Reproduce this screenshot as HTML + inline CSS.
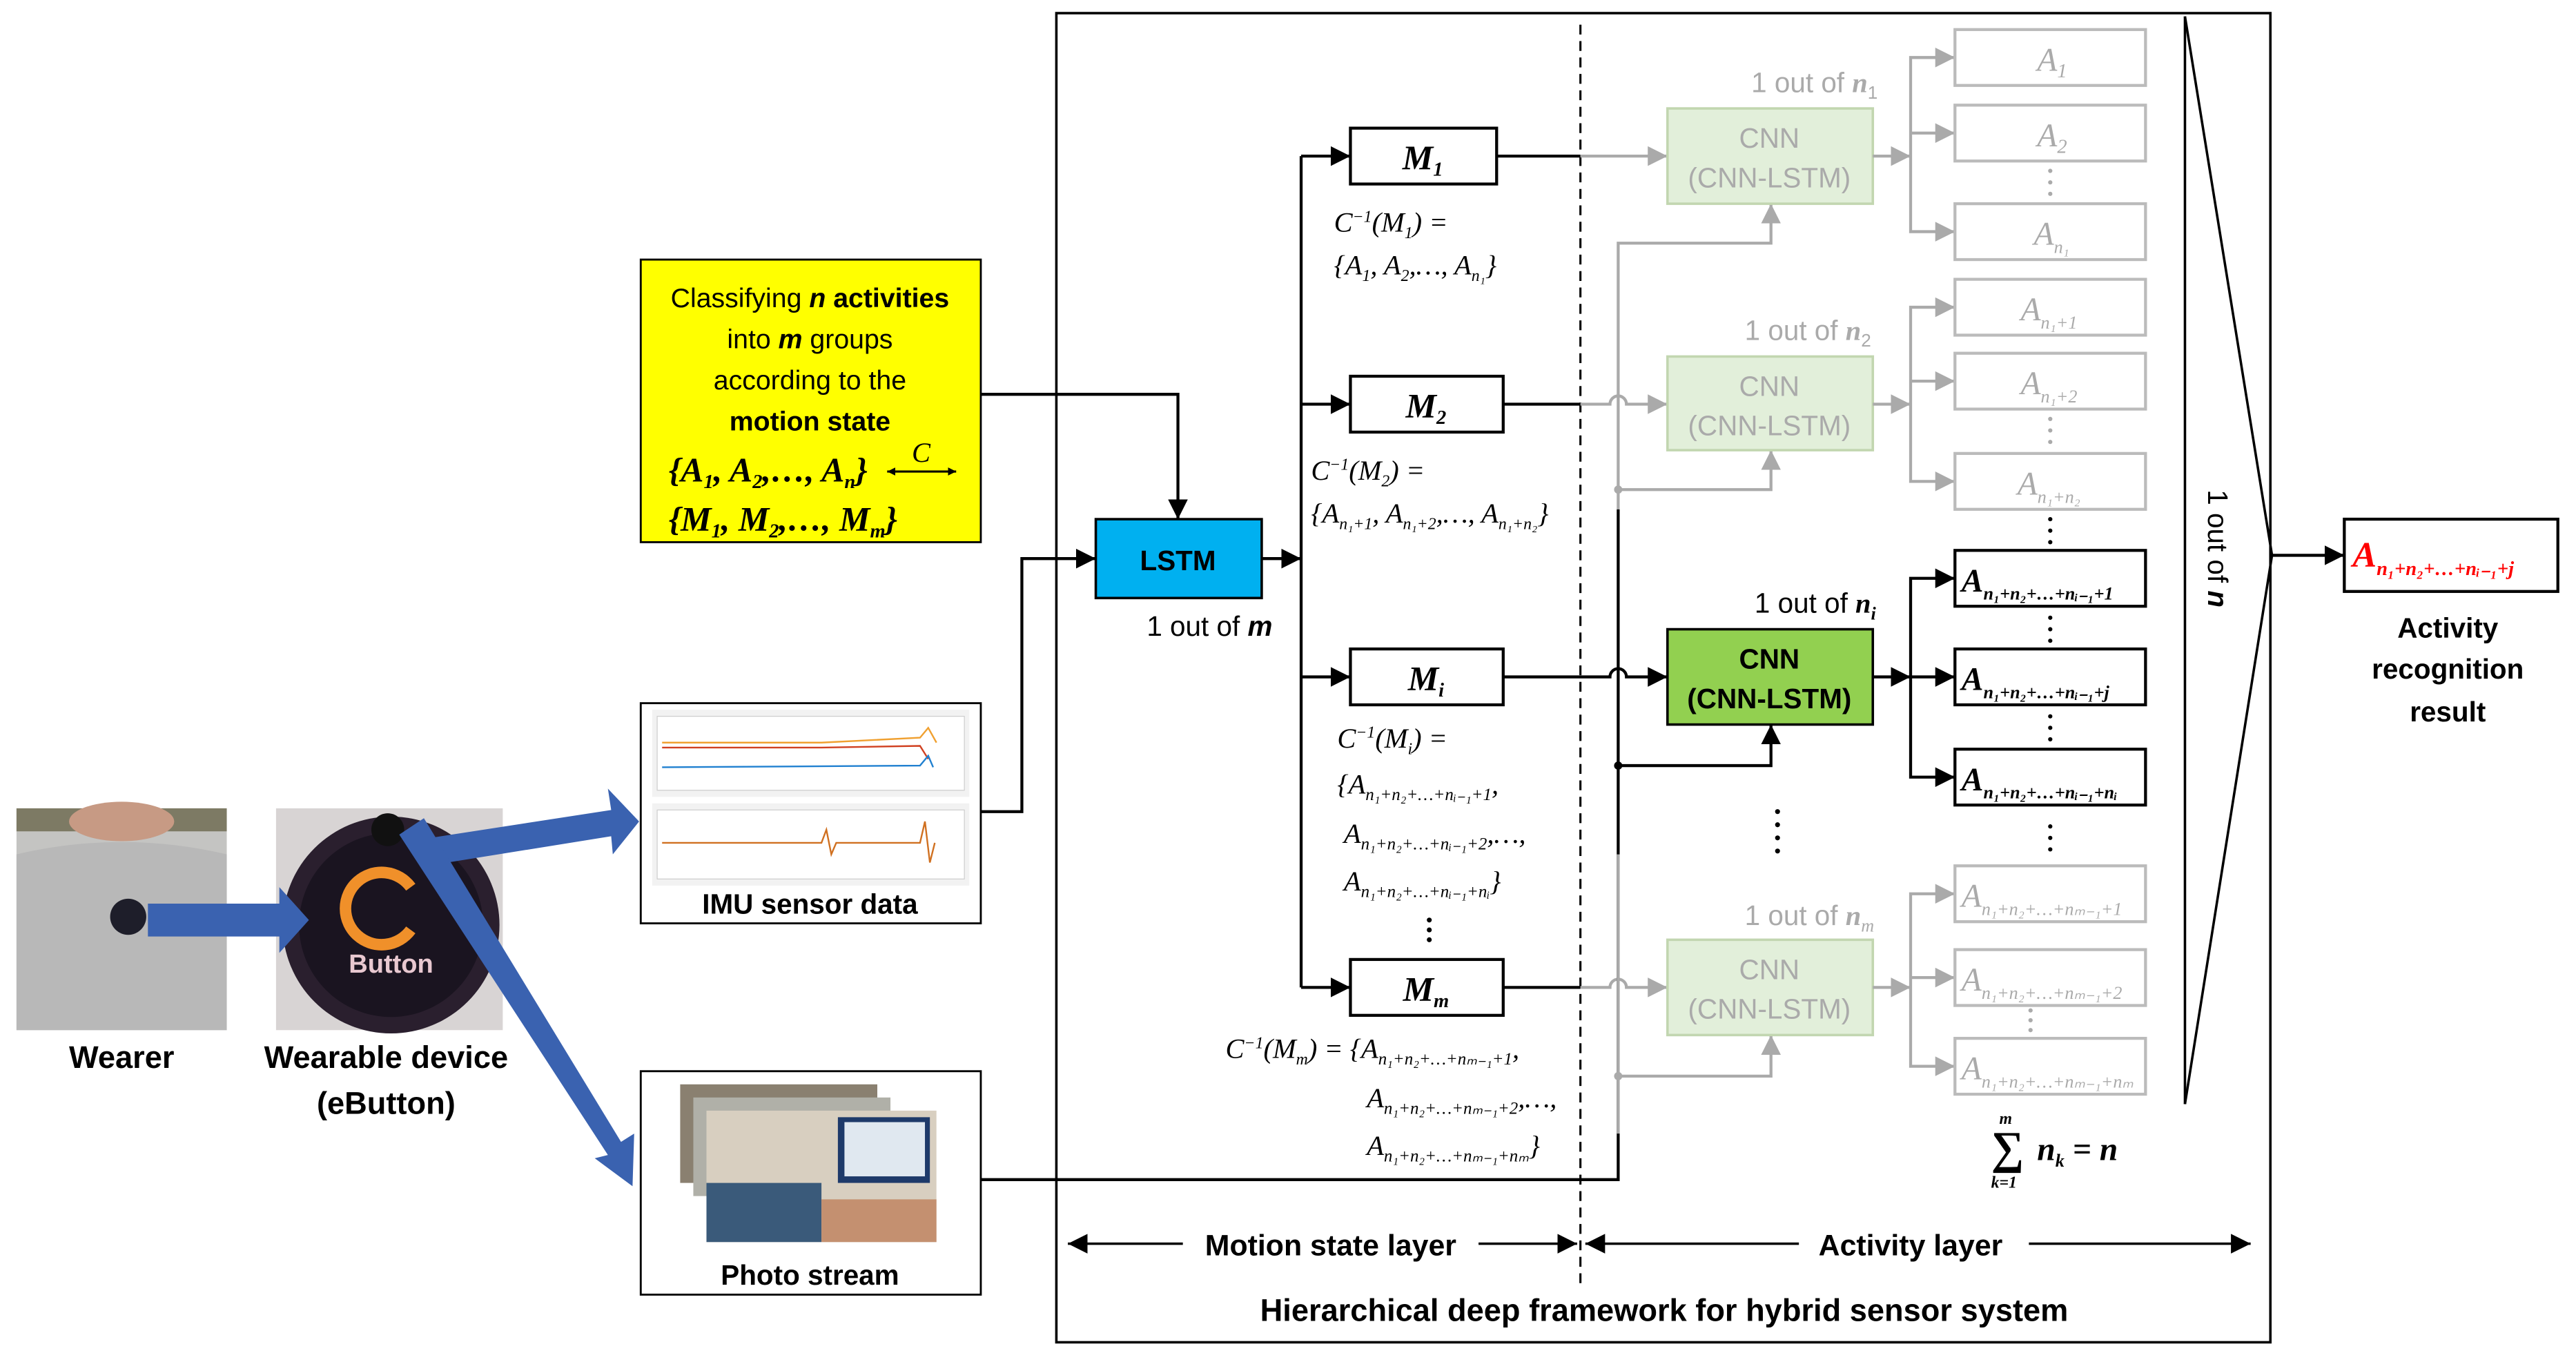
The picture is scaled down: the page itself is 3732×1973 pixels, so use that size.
<!DOCTYPE html>
<html><head><meta charset="utf-8">
<style>
html,body{margin:0;padding:0;background:#fff;}
svg{display:block;}
.s{font-family:"Liberation Sans",sans-serif;}
.m{font-family:"Liberation Serif",serif;font-style:italic;}
</style></head>
<body>
<svg width="3732" height="1973" viewBox="0 0 1568 829" xmlns="http://www.w3.org/2000/svg">
<defs>
<marker id="ab" viewBox="0 0 10 10" refX="10" refY="5" markerWidth="5" markerHeight="5" orient="auto-start-reverse" markerUnits="userSpaceOnUse"><path d="M0,0L10,5L0,10z" fill="#000"/></marker>
<marker id="ab2" viewBox="0 0 10 10" refX="10" refY="5" markerWidth="12" markerHeight="12" orient="auto-start-reverse" markerUnits="userSpaceOnUse"><path d="M0,0L10,5L0,10z" fill="#000"/></marker>
<marker id="ag" viewBox="0 0 10 10" refX="10" refY="5" markerWidth="12" markerHeight="12" orient="auto-start-reverse" markerUnits="userSpaceOnUse"><path d="M0,0L10,5L0,10z" fill="#aaa"/></marker>
</defs>
<rect width="1568" height="829" fill="#fff"/>

<!-- main frame -->
<rect x="643" y="8" width="739" height="809" fill="none" stroke="#000" stroke-width="1.5"/>
<line x1="962" y1="15" x2="962" y2="785" stroke="#000" stroke-width="1.3" stroke-dasharray="6,4"/>

<!-- photos -->
<rect x="10" y="492" width="128" height="135" fill="#c4c4c2"/>
<rect x="10" y="492" width="128" height="14" fill="#7d7a64"/>
<ellipse cx="74" cy="500" rx="32" ry="12" fill="#c79a84"/>
<path d="M10,520 Q74,505 138,520 L138,627 L10,627z" fill="#b8b8b8"/>
<circle cx="78" cy="558" r="11" fill="#1e1e2a"/>
<rect x="168" y="492" width="138" height="135" fill="#d8d4d4"/>
<circle cx="238" cy="563" r="66" fill="#2a1f2e"/>
<circle cx="238" cy="563" r="56" fill="#1a1420"/>
<circle cx="236" cy="505" r="10" fill="#111"/>
<path d="M250,540 A22,22 0 1 0 250,566" fill="none" stroke="#f0902a" stroke-width="7"/>
<text x="238" y="592" class="s" font-size="16" font-weight="bold" fill="#e8c8d0" text-anchor="middle">Button</text>

<!-- blue arrows -->
<polygon points="90,550 170,550 170,540 188,560 170,580 170,570 90,570" fill="#3a62b0"/>
<polygon points="262,510 372,493 370,480 389,500 373,520 372,509 266,526" fill="#3a62b0"/>
<polygon points="243,508 258,498 378,695 386,690 385,722 362,705 370,703" fill="#3a62b0"/>

<text x="74" y="650" class="s" font-size="19" font-weight="bold" text-anchor="middle">Wearer</text>
<text x="235" y="650" class="s" font-size="19" font-weight="bold" text-anchor="middle">Wearable device</text>
<text x="235" y="678" class="s" font-size="19" font-weight="bold" text-anchor="middle">(eButton)</text>

<!-- yellow box -->
<rect x="390" y="158" width="207" height="172" fill="#ffff00" stroke="#000" stroke-width="1.2"/>
<g class="s" font-size="16.5" text-anchor="middle">
<text x="493" y="187">Classifying <tspan font-weight="bold" font-style="italic">n</tspan><tspan font-weight="bold"> activities</tspan></text>
<text x="493" y="212">into <tspan font-weight="bold" font-style="italic">m</tspan> groups</text>
<text x="493" y="237">according to the</text>
<text x="493" y="262" font-weight="bold">motion state</text>
</g>
<text x="407" y="293" class="m" font-size="21" font-weight="bold">{A<tspan font-size="12" dy="4">1</tspan><tspan dy="-4">, A</tspan><tspan font-size="12" dy="4">2</tspan><tspan dy="-4">,…, A</tspan><tspan font-size="12" dy="4">n</tspan><tspan dy="-4">}</tspan></text>
<line x1="540" y1="287" x2="582" y2="287" stroke="#000" stroke-width="1.3" marker-start="url(#ab)" marker-end="url(#ab)"/>
<text x="555" y="281" class="m" font-size="17">C</text>
<text x="407" y="323" class="m" font-size="21" font-weight="bold">{M<tspan font-size="12" dy="4">1</tspan><tspan dy="-4">, M</tspan><tspan font-size="12" dy="4">2</tspan><tspan dy="-4">,…, M</tspan><tspan font-size="12" dy="4">m</tspan><tspan dy="-4">}</tspan></text>

<!-- IMU box -->
<rect x="390" y="428" width="207" height="134" fill="#fff" stroke="#000" stroke-width="1.2"/>
<rect x="397" y="432" width="193" height="53" fill="#f2f2f2"/>
<rect x="400" y="436" width="187" height="45" fill="#fff" stroke="#ccc" stroke-width="0.5"/>
<polyline points="403,452 500,452 560,449 565,443 570,452" fill="none" stroke="#f0a030" stroke-width="1"/>
<polyline points="403,455 500,455 560,454 565,462" fill="none" stroke="#d04020" stroke-width="1"/>
<polyline points="403,467 560,466 565,460 568,467" fill="none" stroke="#2080d0" stroke-width="1"/>
<rect x="397" y="489" width="193" height="50" fill="#f2f2f2"/>
<rect x="400" y="493" width="187" height="42" fill="#fff" stroke="#ccc" stroke-width="0.5"/>
<polyline points="403,513 500,513 503,505 506,520 509,513 560,513 563,500 566,525 569,513" fill="none" stroke="#d07020" stroke-width="1"/>
<text x="493" y="556" class="s" font-size="17" font-weight="bold" text-anchor="middle">IMU sensor data</text>

<!-- photo box -->
<rect x="390" y="652" width="207" height="136" fill="#fff" stroke="#000" stroke-width="1.2"/>
<rect x="414" y="660" width="120" height="60" fill="#8a8070"/>
<rect x="422" y="668" width="120" height="60" fill="#b0b0a8"/>
<rect x="430" y="676" width="140" height="80" fill="#d8cfc0"/>
<rect x="510" y="680" width="56" height="40" fill="#1e3a6a"/>
<rect x="514" y="683" width="49" height="33" fill="#e0e8f0"/>
<rect x="430" y="720" width="70" height="36" fill="#3a5a7a"/>
<rect x="500" y="730" width="70" height="26" fill="#c49070"/>
<text x="493" y="782" class="s" font-size="17" font-weight="bold" text-anchor="middle">Photo stream</text>

<!-- connectors to LSTM -->
<polyline points="597,240 717,240 717,316" fill="none" stroke="#000" stroke-width="1.8" marker-end="url(#ab2)"/>
<polyline points="597,494 622,494 622,340 667,340" fill="none" stroke="#000" stroke-width="1.8" marker-end="url(#ab2)"/>

<!-- LSTM -->
<rect x="667" y="316" width="101" height="48" fill="#00b0f0" stroke="#000" stroke-width="1.5"/>
<text x="717" y="347" class="s" font-size="17" font-weight="bold" text-anchor="middle">LSTM</text>
<text x="698" y="387" class="s" font-size="17">1 out of <tspan font-weight="bold" font-style="italic">m</tspan></text>
<line x1="768" y1="340" x2="792" y2="340" stroke="#000" stroke-width="1.8" marker-end="url(#ab2)"/>

<!-- trunk -->
<line x1="792" y1="95" x2="792" y2="601" stroke="#000" stroke-width="1.8"/>
<g stroke="#000" stroke-width="1.8">
<line x1="792" y1="95" x2="822" y2="95" marker-end="url(#ab2)"/>
<line x1="792" y1="246" x2="822" y2="246" marker-end="url(#ab2)"/>
<line x1="792" y1="412" x2="822" y2="412" marker-end="url(#ab2)"/>
<line x1="792" y1="601" x2="822" y2="601" marker-end="url(#ab2)"/>
</g>
<g fill="#fff" stroke="#000" stroke-width="1.8">
<rect x="822" y="78" width="89" height="34"/>
<rect x="822" y="229" width="93" height="34"/>
<rect x="822" y="395" width="93" height="34"/>
<rect x="822" y="584" width="93" height="34"/>
</g>
<g class="m" font-size="21" font-weight="bold" text-anchor="middle">
<text x="866" y="103">M<tspan font-size="12" dy="4">1</tspan></text>
<text x="868" y="254">M<tspan font-size="12" dy="4">2</tspan></text>
<text x="868" y="420">M<tspan font-size="12" dy="4">i</tspan></text>
<text x="868" y="609">M<tspan font-size="12" dy="4">m</tspan></text>
</g>

<!-- set labels -->
<g class="m" font-size="17">
<text x="812" y="141">C<tspan font-size="10" dy="-6">−1</tspan><tspan dy="6">(M</tspan><tspan font-size="10" dy="4">1</tspan><tspan dy="-4">) =</tspan></text>
<text x="812" y="167">{A<tspan font-size="10" dy="4">1</tspan><tspan dy="-4">, A</tspan><tspan font-size="10" dy="4">2</tspan><tspan dy="-4">,…, A</tspan><tspan font-size="10" dy="4">n₁</tspan><tspan dy="-4">}</tspan></text>
<text x="798" y="292">C<tspan font-size="10" dy="-6">−1</tspan><tspan dy="6">(M</tspan><tspan font-size="10" dy="4">2</tspan><tspan dy="-4">) =</tspan></text>
<text x="798" y="318">{A<tspan font-size="10" dy="4">n₁+1</tspan><tspan dy="-4">, A</tspan><tspan font-size="10" dy="4">n₁+2</tspan><tspan dy="-4">,…, A</tspan><tspan font-size="10" dy="4">n₁+n₂</tspan><tspan dy="-4">}</tspan></text>
<text x="814" y="455">C<tspan font-size="10" dy="-6">−1</tspan><tspan dy="6">(M</tspan><tspan font-size="10" dy="4">i</tspan><tspan dy="-4">) =</tspan></text>
<text x="814" y="483">{A<tspan font-size="10.5" dy="4">n₁+n₂+…+nᵢ₋₁+1</tspan><tspan dy="-4">,</tspan></text>
<text x="818" y="513">A<tspan font-size="10.5" dy="4">n₁+n₂+…+nᵢ₋₁+2</tspan><tspan dy="-4">,…,</tspan></text>
<text x="818" y="542">A<tspan font-size="10.5" dy="4">n₁+n₂+…+nᵢ₋₁+nᵢ</tspan><tspan dy="-4">}</tspan></text>
<text x="746" y="644">C<tspan font-size="10" dy="-6">−1</tspan><tspan dy="6">(M</tspan><tspan font-size="10" dy="4">m</tspan><tspan dy="-4">) = {A</tspan><tspan font-size="10.5" dy="4">n₁+n₂+…+nₘ₋₁+1</tspan><tspan dy="-4">,</tspan></text>
<text x="832" y="674">A<tspan font-size="10.5" dy="4">n₁+n₂+…+nₘ₋₁+2</tspan><tspan dy="-4">,…,</tspan></text>
<text x="832" y="703">A<tspan font-size="10.5" dy="4">n₁+n₂+…+nₘ₋₁+nₘ</tspan><tspan dy="-4">}</tspan></text>
</g>
<g fill="#000"><circle cx="870" cy="560" r="1.5"/><circle cx="870" cy="566" r="1.5"/><circle cx="870" cy="572" r="1.5"/></g>

<!-- M -> CNN connectors -->
<g stroke-width="1.8" fill="none">
<line x1="911" y1="95" x2="962" y2="95" stroke="#000"/>
<line x1="962" y1="95" x2="1015" y2="95" stroke="#aaa" marker-end="url(#ag)"/>
<line x1="915" y1="246" x2="962" y2="246" stroke="#000"/>
<path d="M962,246 L980,246 A5,5 0 0 1 990,246 L1015,246" stroke="#aaa" marker-end="url(#ag)"/>
<path d="M915,412 L980,412 A5,5 0 0 1 990,412 L1015,412" stroke="#000" marker-end="url(#ab2)"/>
<line x1="915" y1="601" x2="962" y2="601" stroke="#000"/>
<path d="M962,601 L980,601 A5,5 0 0 1 990,601 L1015,601" stroke="#aaa" marker-end="url(#ag)"/>
</g>

<!-- photo line -->
<g fill="none" stroke-width="1.8">
<polyline points="597,718 985,718 985,310" stroke="#000"/>
<polyline points="985,298 985,148 1078,148 1078,124" stroke="#aaa" marker-end="url(#ag)"/>
<polyline points="985,298 1078,298 1078,274" stroke="#aaa" marker-end="url(#ag)"/>
<line x1="985" y1="298" x2="985" y2="310" stroke="#aaa"/>
<polyline points="985,466 1078,466 1078,441" stroke="#000" marker-end="url(#ab2)"/>
<polyline points="985,655 1078,655 1078,630" stroke="#aaa" marker-end="url(#ag)"/>
<line x1="985" y1="520" x2="985" y2="690" stroke="#aaa"/>
</g>
<circle cx="985" cy="466" r="2.5" fill="#000"/>
<circle cx="985" cy="298" r="2.5" fill="#aaa"/>
<circle cx="985" cy="655" r="2.5" fill="#aaa"/>

<!-- CNN boxes -->
<g stroke-width="1.5">
<rect x="1015" y="66" width="125" height="58" fill="#e2efda" stroke="#c2d6b0"/>
<rect x="1015" y="217" width="125" height="57" fill="#e2efda" stroke="#c2d6b0"/>
<rect x="1015" y="383" width="125" height="58" fill="#92d050" stroke="#000"/>
<rect x="1015" y="572" width="125" height="58" fill="#e2efda" stroke="#c2d6b0"/>
</g>
<g class="s" font-size="17" text-anchor="middle">
<text x="1077" y="90" fill="#aaa">CNN</text><text x="1077" y="114" fill="#aaa">(CNN-LSTM)</text>
<text x="1077" y="241" fill="#aaa">CNN</text><text x="1077" y="265" fill="#aaa">(CNN-LSTM)</text>
<text x="1077" y="407" fill="#000" font-weight="bold">CNN</text><text x="1077" y="431" fill="#000" font-weight="bold">(CNN-LSTM)</text>
<text x="1077" y="596" fill="#aaa">CNN</text><text x="1077" y="620" fill="#aaa">(CNN-LSTM)</text>
</g>
<g class="s" font-size="17">
<text x="1066" y="56" fill="#aaa">1 out of <tspan class="m" font-weight="bold">n</tspan><tspan font-size="11" dy="4">1</tspan></text>
<text x="1062" y="207" fill="#aaa">1 out of <tspan class="m" font-weight="bold">n</tspan><tspan font-size="11" dy="4">2</tspan></text>
<text x="1068" y="373" fill="#000">1 out of <tspan class="m" font-weight="bold">n</tspan><tspan font-size="11" dy="4" class="m" font-weight="bold">i</tspan></text>
<text x="1062" y="563" fill="#aaa">1 out of <tspan class="m" font-weight="bold">n</tspan><tspan font-size="11" dy="4" class="m">m</tspan></text>
</g>
<g fill="#000"><circle cx="1082" cy="494" r="1.5"/><circle cx="1082" cy="502" r="1.5"/><circle cx="1082" cy="510" r="1.5"/><circle cx="1082" cy="518" r="1.5"/></g>

<!-- fan arrows -->
<g fill="none" stroke-width="1.8">
<g stroke="#aaa">
<line x1="1140" y1="95" x2="1163" y2="95" marker-end="url(#ag)"/>
<polyline points="1190,35 1163,35 1163,141 1190,141" marker-start="url(#ag)" marker-end="url(#ag)"/>
<line x1="1163" y1="81" x2="1190" y2="81" marker-end="url(#ag)"/>
<line x1="1140" y1="246" x2="1163" y2="246" marker-end="url(#ag)"/>
<polyline points="1190,187 1163,187 1163,293 1190,293" marker-start="url(#ag)" marker-end="url(#ag)"/>
<line x1="1163" y1="232" x2="1190" y2="232" marker-end="url(#ag)"/>
<line x1="1140" y1="601" x2="1163" y2="601" marker-end="url(#ag)"/>
<polyline points="1190,544 1163,544 1163,649 1190,649" marker-start="url(#ag)" marker-end="url(#ag)"/>
<line x1="1163" y1="595" x2="1190" y2="595" marker-end="url(#ag)"/>
</g>
<g stroke="#000">
<line x1="1140" y1="412" x2="1163" y2="412" marker-end="url(#ab2)"/>
<polyline points="1190,352 1163,352 1163,473 1190,473" marker-start="url(#ab2)" marker-end="url(#ab2)"/>
<line x1="1163" y1="412" x2="1190" y2="412" marker-end="url(#ab2)"/>
</g>
</g>

<!-- A boxes -->
<g fill="#fff" stroke-width="1.8">
<g stroke="#bbb">
<rect x="1190" y="18" width="116" height="34"/><rect x="1190" y="64" width="116" height="34"/><rect x="1190" y="124" width="116" height="34"/>
<rect x="1190" y="170" width="116" height="34"/><rect x="1190" y="215" width="116" height="34"/><rect x="1190" y="276" width="116" height="34"/>
<rect x="1190" y="527" width="116" height="34"/><rect x="1190" y="578" width="116" height="34"/><rect x="1190" y="632" width="116" height="34"/>
</g>
<g stroke="#000">
<rect x="1190" y="335" width="116" height="34"/><rect x="1190" y="395" width="116" height="34"/><rect x="1190" y="456" width="116" height="34"/>
</g>
</g>
<g class="m" font-size="20" fill="#aaa">
<text x="1240" y="43">A<tspan font-size="12" dy="4">1</tspan></text>
<text x="1240" y="89">A<tspan font-size="12" dy="4">2</tspan></text>
<text x="1238" y="149">A<tspan font-size="11" dy="5">n₁</tspan></text>
<text x="1230" y="195">A<tspan font-size="11" dy="5">n₁+1</tspan></text>
<text x="1230" y="240">A<tspan font-size="11" dy="5">n₁+2</tspan></text>
<text x="1228" y="301">A<tspan font-size="11" dy="5">n₁+n₂</tspan></text>
<text x="1194" y="552">A<tspan font-size="11" dy="5">n₁+n₂+…+nₘ₋₁+1</tspan></text>
<text x="1194" y="603">A<tspan font-size="11" dy="5">n₁+n₂+…+nₘ₋₁+2</tspan></text>
<text x="1194" y="657">A<tspan font-size="11" dy="5">n₁+n₂+…+nₘ₋₁+nₘ</tspan></text>
</g>
<g class="m" font-size="20" fill="#000" font-weight="bold">
<text x="1194" y="360">A<tspan font-size="11" dy="5">n₁+n₂+…+nᵢ₋₁+1</tspan></text>
<text x="1194" y="420">A<tspan font-size="11" dy="5">n₁+n₂+…+nᵢ₋₁+j</tspan></text>
<text x="1194" y="481">A<tspan font-size="11" dy="5">n₁+n₂+…+nᵢ₋₁+nᵢ</tspan></text>
</g>
<g>
<g fill="#aaa"><circle cx="1248" cy="104" r="1.3"/><circle cx="1248" cy="111" r="1.3"/><circle cx="1248" cy="118" r="1.3"/>
<circle cx="1248" cy="255" r="1.3"/><circle cx="1248" cy="262" r="1.3"/><circle cx="1248" cy="269" r="1.3"/>
<circle cx="1236" cy="615" r="1.3"/><circle cx="1236" cy="621" r="1.3"/><circle cx="1236" cy="627" r="1.3"/></g>
<g fill="#000"><circle cx="1248" cy="316" r="1.3"/><circle cx="1248" cy="323" r="1.3"/><circle cx="1248" cy="330" r="1.3"/>
<circle cx="1248" cy="376" r="1.3"/><circle cx="1248" cy="383" r="1.3"/><circle cx="1248" cy="390" r="1.3"/>
<circle cx="1248" cy="436" r="1.3"/><circle cx="1248" cy="443" r="1.3"/><circle cx="1248" cy="450" r="1.3"/>
<circle cx="1248" cy="503" r="1.3"/><circle cx="1248" cy="510" r="1.3"/><circle cx="1248" cy="517" r="1.3"/></g>
</g>

<!-- sum -->
<text x="1212" y="708" class="m" font-size="28" font-weight="bold">∑</text>
<text x="1217" y="684" class="m" font-size="10" font-weight="bold">m</text>
<text x="1212" y="723" class="m" font-size="10" font-weight="bold">k=1</text>
<text x="1240" y="706" class="m" font-size="20" font-weight="bold">n<tspan font-size="11" dy="4">k</tspan><tspan dy="-4"> = n</tspan></text>

<!-- big triangle -->
<polyline points="1330,10 1383,338 1330,672" fill="none" stroke="#000" stroke-width="1.5"/>
<line x1="1330" y1="10" x2="1330" y2="672" stroke="#000" stroke-width="1.5"/>
<text x="0" y="0" class="s" font-size="17" transform="translate(1344,298) rotate(90)">1 out of <tspan font-weight="bold" font-style="italic">n</tspan></text>
<line x1="1383" y1="338" x2="1427" y2="338" stroke="#000" stroke-width="1.8" marker-end="url(#ab2)"/>

<!-- output -->
<rect x="1427" y="316" width="130" height="44" fill="#fff" stroke="#000" stroke-width="1.8"/>
<text x="1432" y="345" class="m" font-size="22" font-weight="bold" fill="#ff0000">A<tspan font-size="12" dy="5">n₁+n₂+…+nᵢ₋₁+j</tspan></text>
<g class="s" font-size="17" font-weight="bold" text-anchor="middle">
<text x="1490" y="388">Activity</text><text x="1490" y="413">recognition</text><text x="1490" y="439">result</text>
</g>

<!-- bottom -->
<g stroke="#000" stroke-width="1.5">
<line x1="720" y1="757" x2="650" y2="757" marker-end="url(#ab2)"/>
<line x1="900" y1="757" x2="960" y2="757" marker-end="url(#ab2)"/>
<line x1="1095" y1="757" x2="965" y2="757" marker-end="url(#ab2)"/>
<line x1="1235" y1="757" x2="1370" y2="757" marker-end="url(#ab2)"/>
</g>
<g class="s" font-size="18" font-weight="bold" text-anchor="middle">
<text x="810" y="764">Motion state layer</text>
<text x="1163" y="764">Activity layer</text>
<text x="1013" y="804" font-size="19">Hierarchical deep framework for hybrid sensor system</text>
</g>
</svg>
</body></html>
